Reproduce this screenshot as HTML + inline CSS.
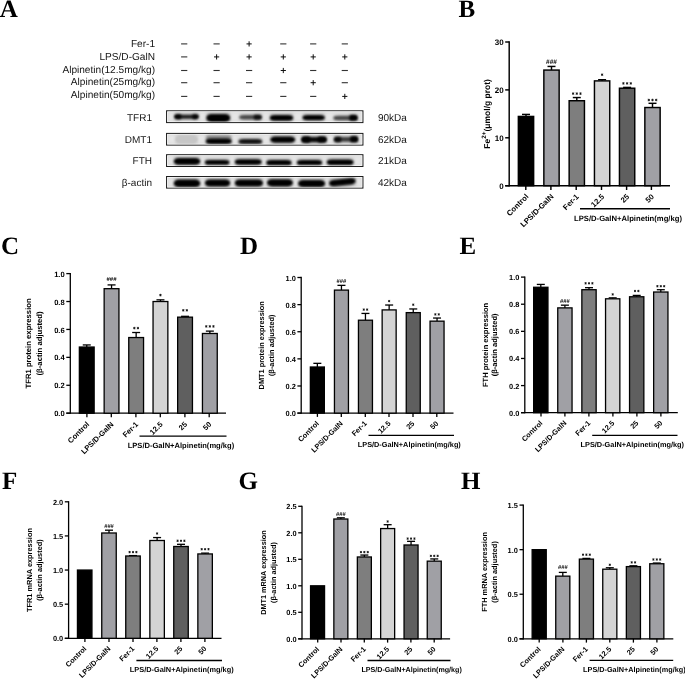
<!DOCTYPE html><html><head><meta charset="utf-8"><style>html,body{margin:0;padding:0;background:#fff;}svg{display:block;text-rendering:geometricPrecision;-webkit-font-smoothing:antialiased;will-change:transform;font-family:"Liberation Sans",sans-serif;}</style></head><body>
<svg width="685" height="679" viewBox="0 0 685 679">
<defs><filter id="bl" x="-30%" y="-100%" width="160%" height="300%"><feGaussianBlur stdDeviation="1.0"/></filter><filter id="bl3" x="-30%" y="-100%" width="160%" height="300%"><feGaussianBlur stdDeviation="1.6"/></filter><filter id="bl2" x="-5%" y="-30%" width="110%" height="160%"><feGaussianBlur stdDeviation="0.8"/></filter></defs>
<rect width="685" height="679" fill="#fff"/>
<text x="-0.3" y="16.8" font-family="Liberation Serif" font-weight="bold" font-size="25">A</text>
<text x="458.5" y="17" font-family="Liberation Serif" font-weight="bold" font-size="25">B</text>
<text x="1" y="254" font-family="Liberation Serif" font-weight="bold" font-size="25">C</text>
<text x="240" y="254.2" font-family="Liberation Serif" font-weight="bold" font-size="25">D</text>
<text x="459.5" y="254.2" font-family="Liberation Serif" font-weight="bold" font-size="25">E</text>
<text x="2" y="488.6" font-family="Liberation Serif" font-weight="bold" font-size="25">F</text>
<text x="238.5" y="488.6" font-family="Liberation Serif" font-weight="bold" font-size="25">G</text>
<text x="461" y="488.6" font-family="Liberation Serif" font-weight="bold" font-size="25">H</text>
<text x="155" y="47.3" font-size="10.1" text-anchor="end" fill="#151515">Fer-1</text>
<text x="155" y="60.0" font-size="10.1" text-anchor="end" fill="#151515">LPS/D-GalN</text>
<text x="155" y="72.7" font-size="10.1" text-anchor="end" fill="#151515">Alpinetin(12.5mg/kg)</text>
<text x="155" y="85.4" font-size="10.1" text-anchor="end" fill="#151515">Alpinetin(25mg/kg)</text>
<text x="155" y="97.9" font-size="10.1" text-anchor="end" fill="#151515">Alpinetin(50mg/kg)</text>
<rect x="181.1" y="43.35" width="6.2" height="1.1" fill="#333"/>
<rect x="213.5" y="43.35" width="6.2" height="1.1" fill="#333"/>
<rect x="246.5" y="43.4" width="5.2" height="1.0" fill="#111"/>
<rect x="248.6" y="41.3" width="1.0" height="5.2" fill="#111"/>
<rect x="280.2" y="43.35" width="6.2" height="1.1" fill="#333"/>
<rect x="310.1" y="43.35" width="6.2" height="1.1" fill="#333"/>
<rect x="341.7" y="43.35" width="6.2" height="1.1" fill="#333"/>
<rect x="181.1" y="56.35" width="6.2" height="1.1" fill="#333"/>
<rect x="214" y="56.4" width="5.2" height="1.0" fill="#111"/>
<rect x="216.1" y="54.3" width="1.0" height="5.2" fill="#111"/>
<rect x="246.5" y="56.4" width="5.2" height="1.0" fill="#111"/>
<rect x="248.6" y="54.3" width="1.0" height="5.2" fill="#111"/>
<rect x="280.7" y="56.4" width="5.2" height="1.0" fill="#111"/>
<rect x="282.8" y="54.3" width="1.0" height="5.2" fill="#111"/>
<rect x="310.6" y="56.4" width="5.2" height="1.0" fill="#111"/>
<rect x="312.7" y="54.3" width="1.0" height="5.2" fill="#111"/>
<rect x="342.2" y="56.4" width="5.2" height="1.0" fill="#111"/>
<rect x="344.3" y="54.3" width="1.0" height="5.2" fill="#111"/>
<rect x="181.1" y="69.95" width="6.2" height="1.1" fill="#333"/>
<rect x="213.5" y="69.95" width="6.2" height="1.1" fill="#333"/>
<rect x="246" y="69.95" width="6.2" height="1.1" fill="#333"/>
<rect x="280.7" y="70" width="5.2" height="1.0" fill="#111"/>
<rect x="282.8" y="67.9" width="1.0" height="5.2" fill="#111"/>
<rect x="310.1" y="69.95" width="6.2" height="1.1" fill="#333"/>
<rect x="341.7" y="69.95" width="6.2" height="1.1" fill="#333"/>
<rect x="181.1" y="82.15" width="6.2" height="1.1" fill="#333"/>
<rect x="213.5" y="82.15" width="6.2" height="1.1" fill="#333"/>
<rect x="246" y="82.15" width="6.2" height="1.1" fill="#333"/>
<rect x="280.2" y="82.15" width="6.2" height="1.1" fill="#333"/>
<rect x="310.6" y="82.2" width="5.2" height="1.0" fill="#111"/>
<rect x="312.7" y="80.1" width="1.0" height="5.2" fill="#111"/>
<rect x="341.7" y="82.15" width="6.2" height="1.1" fill="#333"/>
<rect x="181.1" y="95.85" width="6.2" height="1.1" fill="#333"/>
<rect x="213.5" y="95.85" width="6.2" height="1.1" fill="#333"/>
<rect x="246" y="95.85" width="6.2" height="1.1" fill="#333"/>
<rect x="280.2" y="95.85" width="6.2" height="1.1" fill="#333"/>
<rect x="310.1" y="95.85" width="6.2" height="1.1" fill="#333"/>
<rect x="342.2" y="95.9" width="5.2" height="1.0" fill="#111"/>
<rect x="344.3" y="93.8" width="1.0" height="5.2" fill="#111"/>
<text x="152" y="121.2" font-size="10" text-anchor="end" fill="#151515">TFR1</text>
<text x="378" y="121.2" font-size="10" fill="#151515">90kDa</text>
<text x="152" y="143.0" font-size="10" text-anchor="end" fill="#151515">DMT1</text>
<text x="378" y="143.0" font-size="10" fill="#151515">62kDa</text>
<text x="152" y="164.2" font-size="10" text-anchor="end" fill="#151515">FTH</text>
<text x="378" y="164.2" font-size="10" fill="#151515">21kDa</text>
<text x="152" y="185.8" font-size="10" text-anchor="end" fill="#151515">β-actin</text>
<text x="378" y="185.8" font-size="10" fill="#151515">42kDa</text>
<rect x="166.7" y="110.95" width="196.1" height="11.5" fill="#dcdcdc" stroke="#1a1a1a" stroke-width="1.3"/>
<rect x="167.6" y="111.8" width="194.3" height="9.8" fill="none" stroke="#f6f6f6" stroke-width="1.0"/>
<rect x="168.5" y="112.9" width="192.5" height="7.6" fill="#e6e6e6" filter="url(#bl2)"/>
<rect x="166.7" y="133.55" width="196.1" height="11.4" fill="#dcdcdc" stroke="#1a1a1a" stroke-width="1.3"/>
<rect x="167.6" y="134.4" width="194.3" height="9.7" fill="none" stroke="#f6f6f6" stroke-width="1.0"/>
<rect x="168.5" y="135.5" width="192.5" height="7.5" fill="#e6e6e6" filter="url(#bl2)"/>
<rect x="166.7" y="154.85" width="196.1" height="11.5" fill="#dcdcdc" stroke="#1a1a1a" stroke-width="1.3"/>
<rect x="167.6" y="155.7" width="194.3" height="9.8" fill="none" stroke="#f6f6f6" stroke-width="1.0"/>
<rect x="168.5" y="156.8" width="192.5" height="7.6" fill="#e6e6e6" filter="url(#bl2)"/>
<rect x="166.7" y="176.65" width="196.1" height="11.3" fill="#dcdcdc" stroke="#1a1a1a" stroke-width="1.3"/>
<rect x="167.6" y="177.5" width="194.3" height="9.6" fill="none" stroke="#f6f6f6" stroke-width="1.0"/>
<rect x="168.5" y="178.6" width="192.5" height="7.4" fill="#e6e6e6" filter="url(#bl2)"/>
<clipPath id="cb0"><rect x="167.4" y="111.6" width="194.7" height="10.2"/></clipPath>
<clipPath id="cb1"><rect x="167.4" y="134.2" width="194.7" height="10.1"/></clipPath>
<clipPath id="cb2"><rect x="167.4" y="155.5" width="194.7" height="10.2"/></clipPath>
<clipPath id="cb3"><rect x="167.4" y="177.3" width="194.7" height="10"/></clipPath>
<g clip-path="url(#cb0)">
<rect x="175" y="113.1" width="23" height="7.4" rx="2" fill="#000" fill-opacity="0.14" filter="url(#bl3)"/>
<rect x="175.3" y="114.75" width="22.4" height="4.1" rx="5" ry="2.05" fill="#000" fill-opacity="0.85" filter="url(#bl)"/>
<rect x="174" y="112.9" width="7.5" height="7.6" rx="2" fill="#000" fill-opacity="0.16" filter="url(#bl3)"/>
<rect x="174.3" y="114.55" width="6.9" height="4.3" rx="1.62" ry="2.15" fill="#000" fill-opacity="1.0" filter="url(#bl)"/>
<rect x="192" y="112.85" width="7" height="7.5" rx="2" fill="#000" fill-opacity="0.15" filter="url(#bl3)"/>
<rect x="192.3" y="114.5" width="6.4" height="4.2" rx="1.5" ry="2.1" fill="#000" fill-opacity="0.95" filter="url(#bl)"/>
<rect x="206" y="112.45" width="24.5" height="11.1" rx="2" fill="#000" fill-opacity="0.16" filter="url(#bl3)"/>
<rect x="206.3" y="114.1" width="23.9" height="7.8" rx="5" ry="3.9" fill="#000" fill-opacity="1.0" filter="url(#bl)"/>
<rect x="239" y="113.3" width="22.9" height="7.8" rx="2" fill="#000" fill-opacity="0.1" filter="url(#bl3)"/>
<rect x="239.3" y="114.95" width="22.3" height="4.5" rx="5" ry="2.25" fill="#000" fill-opacity="0.65" filter="url(#bl)"/>
<rect x="253.5" y="113.25" width="8.4" height="7.9" rx="2" fill="#000" fill-opacity="0.13" filter="url(#bl3)"/>
<rect x="253.8" y="114.9" width="7.8" height="4.6" rx="1.85" ry="2.3" fill="#000" fill-opacity="0.8" filter="url(#bl)"/>
<rect x="269.5" y="113.25" width="24" height="9.1" rx="2" fill="#000" fill-opacity="0.16" filter="url(#bl3)"/>
<rect x="269.8" y="114.9" width="23.4" height="5.8" rx="5" ry="2.9" fill="#000" fill-opacity="1.0" filter="url(#bl)"/>
<rect x="302.2" y="113.35" width="22.9" height="8.5" rx="2" fill="#000" fill-opacity="0.16" filter="url(#bl3)"/>
<rect x="302.5" y="115" width="22.3" height="5.2" rx="5" ry="2.6" fill="#000" fill-opacity="1.0" filter="url(#bl)"/>
<rect x="333.1" y="114.15" width="24.7" height="7.7" rx="2" fill="#000" fill-opacity="0.1" filter="url(#bl3)"/>
<rect x="333.4" y="115.8" width="24.1" height="4.4" rx="5" ry="2.2" fill="#000" fill-opacity="0.65" filter="url(#bl)"/>
<rect x="349" y="113.45" width="8.8" height="8.7" rx="2" fill="#000" fill-opacity="0.16" filter="url(#bl3)"/>
<rect x="349.3" y="115.1" width="8.2" height="5.4" rx="1.95" ry="2.7" fill="#000" fill-opacity="1.0" filter="url(#bl)"/>
</g>
<g clip-path="url(#cb1)">
<rect x="174.5" y="133.4" width="24" height="12" rx="2" fill="#000" fill-opacity="0.02" filter="url(#bl3)"/>
<rect x="174.8" y="135.05" width="23.4" height="8.7" rx="5" ry="4.35" fill="#000" fill-opacity="0.12" filter="url(#bl)"/>
<rect x="205.5" y="136.95" width="26.4" height="8.7" rx="2" fill="#000" fill-opacity="0.16" filter="url(#bl3)"/>
<rect x="205.8" y="138.6" width="25.8" height="5.4" rx="5" ry="2.7" fill="#000" fill-opacity="1.0" filter="url(#bl)"/>
<rect x="205.5" y="133.05" width="26.4" height="8.5" rx="2" fill="#000" fill-opacity="0.04" filter="url(#bl3)"/>
<rect x="205.8" y="134.7" width="25.8" height="5.2" rx="5" ry="2.6" fill="#000" fill-opacity="0.28" filter="url(#bl)"/>
<rect x="238.2" y="137.35" width="24.3" height="8.3" rx="2" fill="#000" fill-opacity="0.14" filter="url(#bl3)"/>
<rect x="238.5" y="139" width="23.7" height="5" rx="5" ry="2.5" fill="#000" fill-opacity="0.9" filter="url(#bl)"/>
<rect x="270" y="134.85" width="25.5" height="9.5" rx="2" fill="#000" fill-opacity="0.16" filter="url(#bl3)"/>
<rect x="270.3" y="136.5" width="24.9" height="6.2" rx="5" ry="3.1" fill="#000" fill-opacity="1.0" filter="url(#bl)"/>
<rect x="301.3" y="135.25" width="25.5" height="8.7" rx="2" fill="#000" fill-opacity="0.15" filter="url(#bl3)"/>
<rect x="301.6" y="136.9" width="24.9" height="5.4" rx="5" ry="2.7" fill="#000" fill-opacity="0.95" filter="url(#bl)"/>
<rect x="301.3" y="135.1" width="9.2" height="9" rx="2" fill="#000" fill-opacity="0.16" filter="url(#bl3)"/>
<rect x="301.6" y="136.75" width="8.6" height="5.7" rx="2.05" ry="2.85" fill="#000" fill-opacity="1.0" filter="url(#bl)"/>
<rect x="317.5" y="135.15" width="9.3" height="8.7" rx="2" fill="#000" fill-opacity="0.15" filter="url(#bl3)"/>
<rect x="317.8" y="136.8" width="8.7" height="5.4" rx="2.08" ry="2.7" fill="#000" fill-opacity="0.95" filter="url(#bl)"/>
<rect x="333.8" y="135.35" width="24.4" height="8.1" rx="2" fill="#000" fill-opacity="0.11" filter="url(#bl3)"/>
<rect x="334.1" y="137" width="23.8" height="4.8" rx="5" ry="2.4" fill="#000" fill-opacity="0.7" filter="url(#bl)"/>
<rect x="333.8" y="135.25" width="7.7" height="8.3" rx="2" fill="#000" fill-opacity="0.14" filter="url(#bl3)"/>
<rect x="334.1" y="136.9" width="7.1" height="5" rx="1.67" ry="2.5" fill="#000" fill-opacity="0.85" filter="url(#bl)"/>
<rect x="350" y="134.65" width="8.2" height="9.1" rx="2" fill="#000" fill-opacity="0.16" filter="url(#bl3)"/>
<rect x="350.3" y="136.3" width="7.6" height="5.8" rx="1.8" ry="2.9" fill="#000" fill-opacity="1.0" filter="url(#bl)"/>
</g>
<g clip-path="url(#cb2)">
<rect x="173.5" y="156.45" width="27" height="9.9" rx="2" fill="#000" fill-opacity="0.16" filter="url(#bl3)"/>
<rect x="173.8" y="158.1" width="26.4" height="6.6" rx="5" ry="3.3" fill="#000" fill-opacity="1.0" filter="url(#bl)"/>
<rect x="204.6" y="158.35" width="25.1" height="8.1" rx="2" fill="#000" fill-opacity="0.16" filter="url(#bl3)"/>
<rect x="204.9" y="160" width="24.5" height="4.8" rx="5" ry="2.4" fill="#000" fill-opacity="1.0" filter="url(#bl)"/>
<rect x="234.5" y="157.55" width="27.4" height="8.9" rx="2" fill="#000" fill-opacity="0.16" filter="url(#bl3)"/>
<rect x="234.8" y="159.2" width="26.8" height="5.6" rx="5" ry="2.8" fill="#000" fill-opacity="1.0" filter="url(#bl)"/>
<rect x="266" y="158.45" width="25.8" height="8.5" rx="2" fill="#000" fill-opacity="0.16" filter="url(#bl3)"/>
<rect x="266.3" y="160.1" width="25.2" height="5.2" rx="5" ry="2.6" fill="#000" fill-opacity="1.0" filter="url(#bl)"/>
<rect x="296.6" y="158.25" width="25.8" height="8.5" rx="2" fill="#000" fill-opacity="0.16" filter="url(#bl3)"/>
<rect x="296.9" y="159.9" width="25.2" height="5.2" rx="5" ry="2.6" fill="#000" fill-opacity="1.0" filter="url(#bl)"/>
<rect x="326.5" y="157.85" width="27.3" height="8.9" rx="2" fill="#000" fill-opacity="0.16" filter="url(#bl3)"/>
<rect x="326.8" y="159.5" width="26.7" height="5.6" rx="5" ry="2.8" fill="#000" fill-opacity="1.0" filter="url(#bl)"/>
</g>
<g clip-path="url(#cb3)">
<rect x="173.5" y="177.95" width="27" height="10.7" rx="2" fill="#000" fill-opacity="0.16" filter="url(#bl3)"/>
<rect x="173.8" y="179.6" width="26.4" height="7.4" rx="5" ry="3.7" fill="#000" fill-opacity="1.0" filter="url(#bl)"/>
<rect x="204.6" y="177.85" width="25.9" height="10.3" rx="2" fill="#000" fill-opacity="0.16" filter="url(#bl3)"/>
<rect x="204.9" y="179.5" width="25.3" height="7" rx="5" ry="3.5" fill="#000" fill-opacity="1.0" filter="url(#bl)"/>
<rect x="234.5" y="177.75" width="28.8" height="10.5" rx="2" fill="#000" fill-opacity="0.16" filter="url(#bl3)"/>
<rect x="234.8" y="179.4" width="28.2" height="7.2" rx="5" ry="3.6" fill="#000" fill-opacity="1.0" filter="url(#bl)"/>
<rect x="266.7" y="177.55" width="26.5" height="10.5" rx="2" fill="#000" fill-opacity="0.16" filter="url(#bl3)"/>
<rect x="267" y="179.2" width="25.9" height="7.2" rx="5" ry="3.6" fill="#000" fill-opacity="1.0" filter="url(#bl)"/>
<rect x="297.8" y="178.25" width="27.6" height="10.5" rx="2" fill="#000" fill-opacity="0.16" filter="url(#bl3)"/>
<rect x="298.1" y="179.9" width="27" height="7.2" rx="5" ry="3.6" fill="#000" fill-opacity="1.0" filter="url(#bl)"/>
<rect x="328.7" y="177.25" width="27.3" height="9.9" rx="2" fill="#000" fill-opacity="0.16" filter="url(#bl3)" transform="rotate(-6 342.35 182.2)"/>
<rect x="329" y="178.9" width="26.7" height="6.6" rx="5" ry="3.3" fill="#000" fill-opacity="1.0" filter="url(#bl)" transform="rotate(-6 342.35 182.2)"/>
</g>
<line x1="509.2" y1="41.27" x2="509.2" y2="186.42" stroke="#000" stroke-width="1.45"/>
<line x1="505.2" y1="185.7" x2="670" y2="185.7" stroke="#000" stroke-width="1.45"/>
<line x1="505.2" y1="185.7" x2="509.2" y2="185.7" stroke="#000" stroke-width="1.45"/>
<text x="503.6" y="188.98" font-size="8" text-anchor="end" font-weight="bold">0</text>
<line x1="505.2" y1="137.8" x2="509.2" y2="137.8" stroke="#000" stroke-width="1.45"/>
<text x="503.6" y="141.08" font-size="8" text-anchor="end" font-weight="bold">10</text>
<line x1="505.2" y1="89.9" x2="509.2" y2="89.9" stroke="#000" stroke-width="1.45"/>
<text x="503.6" y="93.18" font-size="8" text-anchor="end" font-weight="bold">20</text>
<line x1="505.2" y1="42" x2="509.2" y2="42" stroke="#000" stroke-width="1.45"/>
<text x="503.6" y="45.28" font-size="8" text-anchor="end" font-weight="bold">30</text>
<line x1="526" y1="116.44" x2="526" y2="114.42" stroke="#000" stroke-width="1.45"/>
<line x1="522" y1="114.42" x2="530" y2="114.42" stroke="#000" stroke-width="1.45"/>
<rect x="518.35" y="116.44" width="15.3" height="69.26" fill="#000000" stroke="#000" stroke-width="1.45"/>
<line x1="551.5" y1="70.07" x2="551.5" y2="66.43" stroke="#000" stroke-width="1.45"/>
<line x1="547.5" y1="66.43" x2="555.5" y2="66.43" stroke="#000" stroke-width="1.45"/>
<rect x="543.85" y="70.07" width="15.3" height="115.63" fill="#a0a0a5" stroke="#000" stroke-width="1.45"/>
<text x="551.5" y="64.14" font-size="6.5" text-anchor="middle" font-weight="bold" fill="#000">###</text>
<line x1="576.8" y1="100.73" x2="576.8" y2="97.56" stroke="#000" stroke-width="1.45"/>
<line x1="572.8" y1="97.56" x2="580.8" y2="97.56" stroke="#000" stroke-width="1.45"/>
<rect x="569.15" y="100.73" width="15.3" height="84.97" fill="#7e7e7e" stroke="#000" stroke-width="1.45"/>
<path d="M573.1 92.35L573.1 94.85M572.02 92.97L574.18 94.22M572.02 94.22L574.18 92.97" stroke="#111" stroke-width="0.85" fill="none"/>
<path d="M576.8 92.35L576.8 94.85M575.72 92.97L577.88 94.22M575.72 94.22L577.88 92.97" stroke="#111" stroke-width="0.85" fill="none"/>
<path d="M580.5 92.35L580.5 94.85M579.42 92.97L581.58 94.22M579.42 94.22L581.58 92.97" stroke="#111" stroke-width="0.85" fill="none"/>
<line x1="602.1" y1="80.89" x2="602.1" y2="79.7" stroke="#000" stroke-width="1.45"/>
<line x1="598.1" y1="79.7" x2="606.1" y2="79.7" stroke="#000" stroke-width="1.45"/>
<rect x="594.45" y="80.89" width="15.3" height="104.81" fill="#d4d4d4" stroke="#000" stroke-width="1.45"/>
<path d="M602.1 73.45L602.1 75.95M601.02 74.08L603.18 75.33M601.02 75.33L603.18 74.08" stroke="#111" stroke-width="0.85" fill="none"/>
<line x1="627.1" y1="88.22" x2="627.1" y2="87.41" stroke="#000" stroke-width="1.45"/>
<line x1="623.1" y1="87.41" x2="631.1" y2="87.41" stroke="#000" stroke-width="1.45"/>
<rect x="619.45" y="88.22" width="15.3" height="97.48" fill="#5f5f5f" stroke="#000" stroke-width="1.45"/>
<path d="M623.4 82.15L623.4 84.65M622.32 82.78L624.48 84.03M622.32 84.03L624.48 82.78" stroke="#111" stroke-width="0.85" fill="none"/>
<path d="M627.1 82.15L627.1 84.65M626.02 82.78L628.18 84.03M626.02 84.03L628.18 82.78" stroke="#111" stroke-width="0.85" fill="none"/>
<path d="M630.8 82.15L630.8 84.65M629.72 82.78L631.88 84.03M629.72 84.03L631.88 82.78" stroke="#111" stroke-width="0.85" fill="none"/>
<line x1="652.5" y1="107.53" x2="652.5" y2="103.31" stroke="#000" stroke-width="1.45"/>
<line x1="648.5" y1="103.31" x2="656.5" y2="103.31" stroke="#000" stroke-width="1.45"/>
<rect x="644.85" y="107.53" width="15.3" height="78.17" fill="#a0a0a5" stroke="#000" stroke-width="1.45"/>
<path d="M648.8 98.75L648.8 101.25M647.72 99.38L649.88 100.62M647.72 100.62L649.88 99.38" stroke="#111" stroke-width="0.85" fill="none"/>
<path d="M652.5 98.75L652.5 101.25M651.42 99.38L653.58 100.62M651.42 100.62L653.58 99.38" stroke="#111" stroke-width="0.85" fill="none"/>
<path d="M656.2 98.75L656.2 101.25M655.12 99.38L657.28 100.62M655.12 100.62L657.28 99.38" stroke="#111" stroke-width="0.85" fill="none"/>
<line x1="525.8" y1="185.7" x2="525.8" y2="190" stroke="#000" stroke-width="1.45"/>
<line x1="550.9" y1="185.7" x2="550.9" y2="190" stroke="#000" stroke-width="1.45"/>
<line x1="576.2" y1="185.7" x2="576.2" y2="190" stroke="#000" stroke-width="1.45"/>
<line x1="601.5" y1="185.7" x2="601.5" y2="190" stroke="#000" stroke-width="1.45"/>
<line x1="626.6" y1="185.7" x2="626.6" y2="190" stroke="#000" stroke-width="1.45"/>
<line x1="651.4" y1="185.7" x2="651.4" y2="190" stroke="#000" stroke-width="1.45"/>
<text x="529" y="197.1" font-size="7.7" text-anchor="end" font-weight="bold" transform="rotate(-45 529 197.1)">Control</text>
<text x="554.1" y="197.1" font-size="7.7" text-anchor="end" font-weight="bold" transform="rotate(-45 554.1 197.1)">LPS/D-GalN</text>
<text x="579.4" y="197.1" font-size="7.7" text-anchor="end" font-weight="bold" transform="rotate(-45 579.4 197.1)">Fer-1</text>
<text x="604.7" y="197.1" font-size="7.7" text-anchor="end" font-weight="bold" transform="rotate(-45 604.7 197.1)">12.5</text>
<text x="629.8" y="197.1" font-size="7.7" text-anchor="end" font-weight="bold" transform="rotate(-45 629.8 197.1)">25</text>
<text x="654.6" y="197.1" font-size="7.7" text-anchor="end" font-weight="bold" transform="rotate(-45 654.6 197.1)">50</text>
<line x1="580" y1="208.7" x2="670" y2="208.7" stroke="#000" stroke-width="1.45"/>
<text x="682" y="220.6" font-size="7.7" font-weight="bold" text-anchor="end" textLength="108" lengthAdjust="spacingAndGlyphs">LPS/D-GalN+Alpinetin(mg/kg)</text>
<text x="489.9" y="113.85" font-size="8.5" font-weight="bold" text-anchor="middle" transform="rotate(-90 489.9 113.85)">Fe<tspan font-size="6.3" dy="-3.5">2+</tspan><tspan dy="3.5">(μmol/g prot)</tspan></text>
<line x1="70.3" y1="272.95" x2="70.3" y2="413.85" stroke="#000" stroke-width="1.3"/>
<line x1="66.3" y1="413.2" x2="226" y2="413.2" stroke="#000" stroke-width="1.3"/>
<line x1="66.3" y1="413.2" x2="70.3" y2="413.2" stroke="#000" stroke-width="1.3"/>
<text x="64.7" y="416.32" font-size="7.6" text-anchor="end" font-weight="bold">0.0</text>
<line x1="66.3" y1="385.28" x2="70.3" y2="385.28" stroke="#000" stroke-width="1.3"/>
<text x="64.7" y="388.4" font-size="7.6" text-anchor="end" font-weight="bold">0.2</text>
<line x1="66.3" y1="357.36" x2="70.3" y2="357.36" stroke="#000" stroke-width="1.3"/>
<text x="64.7" y="360.48" font-size="7.6" text-anchor="end" font-weight="bold">0.4</text>
<line x1="66.3" y1="329.44" x2="70.3" y2="329.44" stroke="#000" stroke-width="1.3"/>
<text x="64.7" y="332.56" font-size="7.6" text-anchor="end" font-weight="bold">0.6</text>
<line x1="66.3" y1="301.52" x2="70.3" y2="301.52" stroke="#000" stroke-width="1.3"/>
<text x="64.7" y="304.64" font-size="7.6" text-anchor="end" font-weight="bold">0.8</text>
<line x1="66.3" y1="273.6" x2="70.3" y2="273.6" stroke="#000" stroke-width="1.3"/>
<text x="64.7" y="276.72" font-size="7.6" text-anchor="end" font-weight="bold">1.0</text>
<line x1="86.75" y1="347.03" x2="86.75" y2="344.94" stroke="#000" stroke-width="1.3"/>
<line x1="82.75" y1="344.94" x2="90.75" y2="344.94" stroke="#000" stroke-width="1.3"/>
<rect x="79.35" y="347.03" width="14.8" height="66.17" fill="#000000" stroke="#000" stroke-width="1.3"/>
<line x1="111.55" y1="288.68" x2="111.55" y2="284.91" stroke="#000" stroke-width="1.3"/>
<line x1="107.55" y1="284.91" x2="115.55" y2="284.91" stroke="#000" stroke-width="1.3"/>
<rect x="104.15" y="288.68" width="14.8" height="124.52" fill="#a0a0a5" stroke="#000" stroke-width="1.3"/>
<text x="111.55" y="281.46" font-size="6" text-anchor="middle" font-weight="bold" fill="#000">###</text>
<line x1="136.15" y1="337.54" x2="136.15" y2="332.51" stroke="#000" stroke-width="1.3"/>
<line x1="132.15" y1="332.51" x2="140.15" y2="332.51" stroke="#000" stroke-width="1.3"/>
<rect x="128.75" y="337.54" width="14.8" height="75.66" fill="#7e7e7e" stroke="#000" stroke-width="1.3"/>
<path d="M134.35 326.85L134.35 329.35M133.27 327.48L135.43 328.73M133.27 328.73L135.43 327.48" stroke="#111" stroke-width="0.85" fill="none"/>
<path d="M137.95 326.85L137.95 329.35M136.87 327.48L139.03 328.73M136.87 328.73L139.03 327.48" stroke="#111" stroke-width="0.85" fill="none"/>
<line x1="160.45" y1="301.52" x2="160.45" y2="299.84" stroke="#000" stroke-width="1.3"/>
<line x1="156.45" y1="299.84" x2="164.45" y2="299.84" stroke="#000" stroke-width="1.3"/>
<rect x="153.05" y="301.52" width="14.8" height="111.68" fill="#d4d4d4" stroke="#000" stroke-width="1.3"/>
<path d="M160.45 293.85L160.45 296.35M159.37 294.48L161.53 295.73M159.37 295.73L161.53 294.48" stroke="#111" stroke-width="0.85" fill="none"/>
<line x1="185.05" y1="317.16" x2="185.05" y2="316.32" stroke="#000" stroke-width="1.3"/>
<line x1="181.05" y1="316.32" x2="189.05" y2="316.32" stroke="#000" stroke-width="1.3"/>
<rect x="177.65" y="317.16" width="14.8" height="96.04" fill="#5f5f5f" stroke="#000" stroke-width="1.3"/>
<path d="M183.25 309.05L183.25 311.55M182.17 309.68L184.33 310.93M182.17 310.93L184.33 309.68" stroke="#111" stroke-width="0.85" fill="none"/>
<path d="M186.85 309.05L186.85 311.55M185.77 309.68L187.93 310.93M185.77 310.93L187.93 309.68" stroke="#111" stroke-width="0.85" fill="none"/>
<line x1="209.85" y1="333.49" x2="209.85" y2="331.12" stroke="#000" stroke-width="1.3"/>
<line x1="205.85" y1="331.12" x2="213.85" y2="331.12" stroke="#000" stroke-width="1.3"/>
<rect x="202.45" y="333.49" width="14.8" height="79.71" fill="#a0a0a5" stroke="#000" stroke-width="1.3"/>
<path d="M206.25 325.15L206.25 327.65M205.17 325.77L207.33 327.02M205.17 327.02L207.33 325.77" stroke="#111" stroke-width="0.85" fill="none"/>
<path d="M209.85 325.15L209.85 327.65M208.77 325.77L210.93 327.02M208.77 327.02L210.93 325.77" stroke="#111" stroke-width="0.85" fill="none"/>
<path d="M213.45 325.15L213.45 327.65M212.37 325.77L214.53 327.02M212.37 327.02L214.53 325.77" stroke="#111" stroke-width="0.85" fill="none"/>
<line x1="86.9" y1="413.2" x2="86.9" y2="417.2" stroke="#000" stroke-width="1.3"/>
<line x1="111.3" y1="413.2" x2="111.3" y2="417.2" stroke="#000" stroke-width="1.3"/>
<line x1="135.9" y1="413.2" x2="135.9" y2="417.2" stroke="#000" stroke-width="1.3"/>
<line x1="160.3" y1="413.2" x2="160.3" y2="417.2" stroke="#000" stroke-width="1.3"/>
<line x1="184.9" y1="413.2" x2="184.9" y2="417.2" stroke="#000" stroke-width="1.3"/>
<line x1="209.2" y1="413.2" x2="209.2" y2="417.2" stroke="#000" stroke-width="1.3"/>
<text x="89.7" y="424.8" font-size="7.5" text-anchor="end" font-weight="bold" transform="rotate(-45 89.7 424.8)">Control</text>
<text x="114.1" y="424.8" font-size="7.5" text-anchor="end" font-weight="bold" transform="rotate(-45 114.1 424.8)">LPS/D-GalN</text>
<text x="138.7" y="424.8" font-size="7.5" text-anchor="end" font-weight="bold" transform="rotate(-45 138.7 424.8)">Fer-1</text>
<text x="163.1" y="424.8" font-size="7.5" text-anchor="end" font-weight="bold" transform="rotate(-45 163.1 424.8)">12.5</text>
<text x="187.7" y="424.8" font-size="7.5" text-anchor="end" font-weight="bold" transform="rotate(-45 187.7 424.8)">25</text>
<text x="212" y="424.8" font-size="7.5" text-anchor="end" font-weight="bold" transform="rotate(-45 212 424.8)">50</text>
<line x1="139.5" y1="436.1" x2="226.5" y2="436.1" stroke="#000" stroke-width="1.3"/>
<text x="234.2" y="448" font-size="7.5" font-weight="bold" text-anchor="end" textLength="106.5" lengthAdjust="spacingAndGlyphs">LPS/D-GalN+Alpinetin(mg/kg)</text>
<text x="31.5" y="343.4" font-size="7.7" font-weight="bold" text-anchor="middle" transform="rotate(-90 31.5 343.4)">TFR1 protein expression</text>
<text x="41.7" y="343.4" font-size="7.7" font-weight="bold" text-anchor="middle" transform="rotate(-90 41.7 343.4)">(β-actin adjusted)</text>
<line x1="301.2" y1="276.85" x2="301.2" y2="413.75" stroke="#000" stroke-width="1.3"/>
<line x1="297.4" y1="413.1" x2="453.5" y2="413.1" stroke="#000" stroke-width="1.3"/>
<line x1="297.4" y1="413.1" x2="301.2" y2="413.1" stroke="#000" stroke-width="1.3"/>
<text x="295.8" y="416.13" font-size="7.4" text-anchor="end" font-weight="bold">0.0</text>
<line x1="297.4" y1="385.98" x2="301.2" y2="385.98" stroke="#000" stroke-width="1.3"/>
<text x="295.8" y="389.01" font-size="7.4" text-anchor="end" font-weight="bold">0.2</text>
<line x1="297.4" y1="358.86" x2="301.2" y2="358.86" stroke="#000" stroke-width="1.3"/>
<text x="295.8" y="361.89" font-size="7.4" text-anchor="end" font-weight="bold">0.4</text>
<line x1="297.4" y1="331.74" x2="301.2" y2="331.74" stroke="#000" stroke-width="1.3"/>
<text x="295.8" y="334.77" font-size="7.4" text-anchor="end" font-weight="bold">0.6</text>
<line x1="297.4" y1="304.62" x2="301.2" y2="304.62" stroke="#000" stroke-width="1.3"/>
<text x="295.8" y="307.65" font-size="7.4" text-anchor="end" font-weight="bold">0.8</text>
<line x1="297.4" y1="277.5" x2="301.2" y2="277.5" stroke="#000" stroke-width="1.3"/>
<text x="295.8" y="280.53" font-size="7.4" text-anchor="end" font-weight="bold">1.0</text>
<line x1="317.35" y1="367" x2="317.35" y2="363.33" stroke="#000" stroke-width="1.3"/>
<line x1="313.35" y1="363.33" x2="321.35" y2="363.33" stroke="#000" stroke-width="1.3"/>
<rect x="310.35" y="367" width="14" height="46.1" fill="#000000" stroke="#000" stroke-width="1.3"/>
<line x1="341.45" y1="290.11" x2="341.45" y2="285.36" stroke="#000" stroke-width="1.3"/>
<line x1="337.45" y1="285.36" x2="345.45" y2="285.36" stroke="#000" stroke-width="1.3"/>
<rect x="334.45" y="290.11" width="14" height="122.99" fill="#a0a0a5" stroke="#000" stroke-width="1.3"/>
<text x="341.45" y="282.79" font-size="5.8" text-anchor="middle" font-weight="bold" fill="#000">###</text>
<line x1="365.45" y1="320.21" x2="365.45" y2="313.43" stroke="#000" stroke-width="1.3"/>
<line x1="361.45" y1="313.43" x2="369.45" y2="313.43" stroke="#000" stroke-width="1.3"/>
<rect x="358.45" y="320.21" width="14" height="92.89" fill="#7e7e7e" stroke="#000" stroke-width="1.3"/>
<path d="M363.75 308.45L363.75 310.75M362.75 309.03L364.75 310.18M362.75 310.18L364.75 309.03" stroke="#111" stroke-width="0.85" fill="none"/>
<path d="M367.15 308.45L367.15 310.75M366.15 309.03L368.15 310.18M366.15 310.18L368.15 309.03" stroke="#111" stroke-width="0.85" fill="none"/>
<line x1="389.15" y1="309.91" x2="389.15" y2="305.03" stroke="#000" stroke-width="1.3"/>
<line x1="385.15" y1="305.03" x2="393.15" y2="305.03" stroke="#000" stroke-width="1.3"/>
<rect x="382.15" y="309.91" width="14" height="103.19" fill="#d4d4d4" stroke="#000" stroke-width="1.3"/>
<path d="M389.15 299.95L389.15 302.25M388.15 300.53L390.15 301.68M388.15 301.68L390.15 300.53" stroke="#111" stroke-width="0.85" fill="none"/>
<line x1="413.25" y1="312.62" x2="413.25" y2="308.96" stroke="#000" stroke-width="1.3"/>
<line x1="409.25" y1="308.96" x2="417.25" y2="308.96" stroke="#000" stroke-width="1.3"/>
<rect x="406.25" y="312.62" width="14" height="100.48" fill="#5f5f5f" stroke="#000" stroke-width="1.3"/>
<path d="M413.25 303.55L413.25 305.85M412.25 304.12L414.25 305.27M412.25 305.27L414.25 304.12" stroke="#111" stroke-width="0.85" fill="none"/>
<line x1="437.05" y1="321.16" x2="437.05" y2="318.04" stroke="#000" stroke-width="1.3"/>
<line x1="433.05" y1="318.04" x2="441.05" y2="318.04" stroke="#000" stroke-width="1.3"/>
<rect x="430.05" y="321.16" width="14" height="91.94" fill="#a0a0a5" stroke="#000" stroke-width="1.3"/>
<path d="M435.35 313.25L435.35 315.55M434.35 313.82L436.35 314.97M434.35 314.97L436.35 313.82" stroke="#111" stroke-width="0.85" fill="none"/>
<path d="M438.75 313.25L438.75 315.55M437.75 313.82L439.75 314.97M437.75 314.97L439.75 313.82" stroke="#111" stroke-width="0.85" fill="none"/>
<line x1="317.4" y1="413.1" x2="317.4" y2="416.9" stroke="#000" stroke-width="1.3"/>
<line x1="341.3" y1="413.1" x2="341.3" y2="416.9" stroke="#000" stroke-width="1.3"/>
<line x1="365.3" y1="413.1" x2="365.3" y2="416.9" stroke="#000" stroke-width="1.3"/>
<line x1="389" y1="413.1" x2="389" y2="416.9" stroke="#000" stroke-width="1.3"/>
<line x1="413" y1="413.1" x2="413" y2="416.9" stroke="#000" stroke-width="1.3"/>
<line x1="436.8" y1="413.1" x2="436.8" y2="416.9" stroke="#000" stroke-width="1.3"/>
<text x="319.4" y="424" font-size="7.3" text-anchor="end" font-weight="bold" transform="rotate(-45 319.4 424)">Control</text>
<text x="343.3" y="424" font-size="7.3" text-anchor="end" font-weight="bold" transform="rotate(-45 343.3 424)">LPS/D-GalN</text>
<text x="367.3" y="424" font-size="7.3" text-anchor="end" font-weight="bold" transform="rotate(-45 367.3 424)">Fer-1</text>
<text x="391" y="424" font-size="7.3" text-anchor="end" font-weight="bold" transform="rotate(-45 391 424)">12.5</text>
<text x="415" y="424" font-size="7.3" text-anchor="end" font-weight="bold" transform="rotate(-45 415 424)">25</text>
<text x="438.8" y="424" font-size="7.3" text-anchor="end" font-weight="bold" transform="rotate(-45 438.8 424)">50</text>
<line x1="368.5" y1="435.4" x2="454" y2="435.4" stroke="#000" stroke-width="1.3"/>
<text x="460.8" y="447.2" font-size="7.3" font-weight="bold" text-anchor="end" textLength="103" lengthAdjust="spacingAndGlyphs">LPS/D-GalN+Alpinetin(mg/kg)</text>
<text x="264.2" y="345.3" font-size="7.4" font-weight="bold" text-anchor="middle" transform="rotate(-90 264.2 345.3)">DMT1 protein expression</text>
<text x="274" y="345.3" font-size="7.4" font-weight="bold" text-anchor="middle" transform="rotate(-90 274 345.3)">(β-actin adjusted)</text>
<line x1="524.8" y1="276.45" x2="524.8" y2="413.35" stroke="#000" stroke-width="1.3"/>
<line x1="521" y1="412.7" x2="677.8" y2="412.7" stroke="#000" stroke-width="1.3"/>
<line x1="521" y1="412.7" x2="524.8" y2="412.7" stroke="#000" stroke-width="1.3"/>
<text x="519.4" y="415.73" font-size="7.4" text-anchor="end" font-weight="bold">0.0</text>
<line x1="521" y1="385.58" x2="524.8" y2="385.58" stroke="#000" stroke-width="1.3"/>
<text x="519.4" y="388.61" font-size="7.4" text-anchor="end" font-weight="bold">0.2</text>
<line x1="521" y1="358.46" x2="524.8" y2="358.46" stroke="#000" stroke-width="1.3"/>
<text x="519.4" y="361.49" font-size="7.4" text-anchor="end" font-weight="bold">0.4</text>
<line x1="521" y1="331.34" x2="524.8" y2="331.34" stroke="#000" stroke-width="1.3"/>
<text x="519.4" y="334.37" font-size="7.4" text-anchor="end" font-weight="bold">0.6</text>
<line x1="521" y1="304.22" x2="524.8" y2="304.22" stroke="#000" stroke-width="1.3"/>
<text x="519.4" y="307.25" font-size="7.4" text-anchor="end" font-weight="bold">0.8</text>
<line x1="521" y1="277.1" x2="524.8" y2="277.1" stroke="#000" stroke-width="1.3"/>
<text x="519.4" y="280.13" font-size="7.4" text-anchor="end" font-weight="bold">1.0</text>
<line x1="540.8" y1="287.27" x2="540.8" y2="284.42" stroke="#000" stroke-width="1.3"/>
<line x1="536.8" y1="284.42" x2="544.8" y2="284.42" stroke="#000" stroke-width="1.3"/>
<rect x="533.65" y="287.27" width="14.3" height="125.43" fill="#000000" stroke="#000" stroke-width="1.3"/>
<line x1="564.9" y1="307.88" x2="564.9" y2="305.17" stroke="#000" stroke-width="1.3"/>
<line x1="560.9" y1="305.17" x2="568.9" y2="305.17" stroke="#000" stroke-width="1.3"/>
<rect x="557.75" y="307.88" width="14.3" height="104.82" fill="#a0a0a5" stroke="#000" stroke-width="1.3"/>
<text x="564.9" y="302.69" font-size="5.8" text-anchor="middle" font-weight="bold" fill="#000">###</text>
<line x1="589" y1="289.71" x2="589" y2="287.68" stroke="#000" stroke-width="1.3"/>
<line x1="585" y1="287.68" x2="593" y2="287.68" stroke="#000" stroke-width="1.3"/>
<rect x="581.85" y="289.71" width="14.3" height="122.99" fill="#7e7e7e" stroke="#000" stroke-width="1.3"/>
<path d="M585.6 282.15L585.6 284.45M584.6 282.73L586.6 283.88M584.6 283.88L586.6 282.73" stroke="#111" stroke-width="0.85" fill="none"/>
<path d="M589 282.15L589 284.45M588 282.73L590 283.88M588 283.88L590 282.73" stroke="#111" stroke-width="0.85" fill="none"/>
<path d="M592.4 282.15L592.4 284.45M591.4 282.73L593.4 283.88M591.4 283.88L593.4 282.73" stroke="#111" stroke-width="0.85" fill="none"/>
<line x1="612.7" y1="298.8" x2="612.7" y2="297.85" stroke="#000" stroke-width="1.3"/>
<line x1="608.7" y1="297.85" x2="616.7" y2="297.85" stroke="#000" stroke-width="1.3"/>
<rect x="605.55" y="298.8" width="14.3" height="113.9" fill="#d4d4d4" stroke="#000" stroke-width="1.3"/>
<path d="M612.7 293.25L612.7 295.55M611.7 293.82L613.7 294.97M611.7 294.97L613.7 293.82" stroke="#111" stroke-width="0.85" fill="none"/>
<line x1="636.7" y1="296.76" x2="636.7" y2="295.41" stroke="#000" stroke-width="1.3"/>
<line x1="632.7" y1="295.41" x2="640.7" y2="295.41" stroke="#000" stroke-width="1.3"/>
<rect x="629.55" y="296.76" width="14.3" height="115.94" fill="#5f5f5f" stroke="#000" stroke-width="1.3"/>
<path d="M635 289.85L635 292.15M634 290.43L636 291.57M634 291.57L636 290.43" stroke="#111" stroke-width="0.85" fill="none"/>
<path d="M638.4 289.85L638.4 292.15M637.4 290.43L639.4 291.57M637.4 291.57L639.4 290.43" stroke="#111" stroke-width="0.85" fill="none"/>
<line x1="660.8" y1="292.02" x2="660.8" y2="289.71" stroke="#000" stroke-width="1.3"/>
<line x1="656.8" y1="289.71" x2="664.8" y2="289.71" stroke="#000" stroke-width="1.3"/>
<rect x="653.65" y="292.02" width="14.3" height="120.68" fill="#a0a0a5" stroke="#000" stroke-width="1.3"/>
<path d="M657.4 285.05L657.4 287.35M656.4 285.62L658.4 286.77M656.4 286.77L658.4 285.62" stroke="#111" stroke-width="0.85" fill="none"/>
<path d="M660.8 285.05L660.8 287.35M659.8 285.62L661.8 286.77M659.8 286.77L661.8 285.62" stroke="#111" stroke-width="0.85" fill="none"/>
<path d="M664.2 285.05L664.2 287.35M663.2 285.62L665.2 286.77M663.2 286.77L665.2 285.62" stroke="#111" stroke-width="0.85" fill="none"/>
<line x1="541" y1="412.7" x2="541" y2="416.5" stroke="#000" stroke-width="1.3"/>
<line x1="564.9" y1="412.7" x2="564.9" y2="416.5" stroke="#000" stroke-width="1.3"/>
<line x1="588.9" y1="412.7" x2="588.9" y2="416.5" stroke="#000" stroke-width="1.3"/>
<line x1="612.9" y1="412.7" x2="612.9" y2="416.5" stroke="#000" stroke-width="1.3"/>
<line x1="636.9" y1="412.7" x2="636.9" y2="416.5" stroke="#000" stroke-width="1.3"/>
<line x1="660.9" y1="412.7" x2="660.9" y2="416.5" stroke="#000" stroke-width="1.3"/>
<text x="543" y="423.6" font-size="7.3" text-anchor="end" font-weight="bold" transform="rotate(-45 543 423.6)">Control</text>
<text x="566.9" y="423.6" font-size="7.3" text-anchor="end" font-weight="bold" transform="rotate(-45 566.9 423.6)">LPS/D-GalN</text>
<text x="590.9" y="423.6" font-size="7.3" text-anchor="end" font-weight="bold" transform="rotate(-45 590.9 423.6)">Fer-1</text>
<text x="614.9" y="423.6" font-size="7.3" text-anchor="end" font-weight="bold" transform="rotate(-45 614.9 423.6)">12.5</text>
<text x="638.9" y="423.6" font-size="7.3" text-anchor="end" font-weight="bold" transform="rotate(-45 638.9 423.6)">25</text>
<text x="662.9" y="423.6" font-size="7.3" text-anchor="end" font-weight="bold" transform="rotate(-45 662.9 423.6)">50</text>
<line x1="592.2" y1="435.4" x2="677.5" y2="435.4" stroke="#000" stroke-width="1.3"/>
<text x="684" y="447.1" font-size="7.3" font-weight="bold" text-anchor="end" textLength="103.5" lengthAdjust="spacingAndGlyphs">LPS/D-GalN+Alpinetin(mg/kg)</text>
<text x="487.6" y="344.9" font-size="7.55" font-weight="bold" text-anchor="middle" transform="rotate(-90 487.6 344.9)">FTH protein expression</text>
<text x="497.4" y="344.9" font-size="7.55" font-weight="bold" text-anchor="middle" transform="rotate(-90 497.4 344.9)">(β-actin adjusted)</text>
<line x1="68.6" y1="501.15" x2="68.6" y2="638.95" stroke="#000" stroke-width="1.3"/>
<line x1="64.8" y1="638.3" x2="221.5" y2="638.3" stroke="#000" stroke-width="1.3"/>
<line x1="64.8" y1="638.3" x2="68.6" y2="638.3" stroke="#000" stroke-width="1.3"/>
<text x="63.2" y="641.33" font-size="7.4" text-anchor="end" font-weight="bold">0.0</text>
<line x1="64.8" y1="604.17" x2="68.6" y2="604.17" stroke="#000" stroke-width="1.3"/>
<text x="63.2" y="607.21" font-size="7.4" text-anchor="end" font-weight="bold">0.5</text>
<line x1="64.8" y1="570.05" x2="68.6" y2="570.05" stroke="#000" stroke-width="1.3"/>
<text x="63.2" y="573.08" font-size="7.4" text-anchor="end" font-weight="bold">1.0</text>
<line x1="64.8" y1="535.92" x2="68.6" y2="535.92" stroke="#000" stroke-width="1.3"/>
<text x="63.2" y="538.96" font-size="7.4" text-anchor="end" font-weight="bold">1.5</text>
<line x1="64.8" y1="501.8" x2="68.6" y2="501.8" stroke="#000" stroke-width="1.3"/>
<text x="63.2" y="504.83" font-size="7.4" text-anchor="end" font-weight="bold">2.0</text>
<rect x="77.45" y="570.05" width="14.5" height="68.25" fill="#000000" stroke="#000" stroke-width="1.3"/>
<line x1="109" y1="532.99" x2="109" y2="530.19" stroke="#000" stroke-width="1.3"/>
<line x1="105" y1="530.19" x2="113" y2="530.19" stroke="#000" stroke-width="1.3"/>
<rect x="101.75" y="532.99" width="14.5" height="105.31" fill="#a0a0a5" stroke="#000" stroke-width="1.3"/>
<text x="109" y="527.89" font-size="5.8" text-anchor="middle" font-weight="bold" fill="#000">###</text>
<line x1="133" y1="555.99" x2="133" y2="555.58" stroke="#000" stroke-width="1.3"/>
<line x1="129" y1="555.58" x2="137" y2="555.58" stroke="#000" stroke-width="1.3"/>
<rect x="125.75" y="555.99" width="14.5" height="82.31" fill="#7e7e7e" stroke="#000" stroke-width="1.3"/>
<path d="M129.6 550.95L129.6 553.25M128.6 551.52L130.6 552.68M128.6 552.68L130.6 551.52" stroke="#111" stroke-width="0.85" fill="none"/>
<path d="M133 550.95L133 553.25M132 551.52L134 552.68M132 552.68L134 551.52" stroke="#111" stroke-width="0.85" fill="none"/>
<path d="M136.4 550.95L136.4 553.25M135.4 551.52L137.4 552.68M135.4 552.68L137.4 551.52" stroke="#111" stroke-width="0.85" fill="none"/>
<line x1="157.1" y1="540.5" x2="157.1" y2="537.56" stroke="#000" stroke-width="1.3"/>
<line x1="153.1" y1="537.56" x2="161.1" y2="537.56" stroke="#000" stroke-width="1.3"/>
<rect x="149.85" y="540.5" width="14.5" height="97.8" fill="#d4d4d4" stroke="#000" stroke-width="1.3"/>
<path d="M157.1 532.35L157.1 534.65M156.1 532.92L158.1 534.08M156.1 534.08L158.1 532.92" stroke="#111" stroke-width="0.85" fill="none"/>
<line x1="181" y1="546.5" x2="181" y2="544.32" stroke="#000" stroke-width="1.3"/>
<line x1="177" y1="544.32" x2="185" y2="544.32" stroke="#000" stroke-width="1.3"/>
<rect x="173.75" y="546.5" width="14.5" height="91.8" fill="#5f5f5f" stroke="#000" stroke-width="1.3"/>
<path d="M177.6 539.65L177.6 541.95M176.6 540.22L178.6 541.38M176.6 541.38L178.6 540.22" stroke="#111" stroke-width="0.85" fill="none"/>
<path d="M181 539.65L181 541.95M180 540.22L182 541.38M180 541.38L182 540.22" stroke="#111" stroke-width="0.85" fill="none"/>
<path d="M184.4 539.65L184.4 541.95M183.4 540.22L185.4 541.38M183.4 541.38L185.4 540.22" stroke="#111" stroke-width="0.85" fill="none"/>
<line x1="205.1" y1="553.94" x2="205.1" y2="553.12" stroke="#000" stroke-width="1.3"/>
<line x1="201.1" y1="553.12" x2="209.1" y2="553.12" stroke="#000" stroke-width="1.3"/>
<rect x="197.85" y="553.94" width="14.5" height="84.36" fill="#a0a0a5" stroke="#000" stroke-width="1.3"/>
<path d="M201.7 548.05L201.7 550.35M200.7 548.62L202.7 549.78M200.7 549.78L202.7 548.62" stroke="#111" stroke-width="0.85" fill="none"/>
<path d="M205.1 548.05L205.1 550.35M204.1 548.62L206.1 549.78M204.1 549.78L206.1 548.62" stroke="#111" stroke-width="0.85" fill="none"/>
<path d="M208.5 548.05L208.5 550.35M207.5 548.62L209.5 549.78M207.5 549.78L209.5 548.62" stroke="#111" stroke-width="0.85" fill="none"/>
<line x1="84.9" y1="638.3" x2="84.9" y2="642.1" stroke="#000" stroke-width="1.3"/>
<line x1="109" y1="638.3" x2="109" y2="642.1" stroke="#000" stroke-width="1.3"/>
<line x1="133" y1="638.3" x2="133" y2="642.1" stroke="#000" stroke-width="1.3"/>
<line x1="156.9" y1="638.3" x2="156.9" y2="642.1" stroke="#000" stroke-width="1.3"/>
<line x1="180.9" y1="638.3" x2="180.9" y2="642.1" stroke="#000" stroke-width="1.3"/>
<line x1="204.9" y1="638.3" x2="204.9" y2="642.1" stroke="#000" stroke-width="1.3"/>
<text x="86.9" y="649.2" font-size="7.3" text-anchor="end" font-weight="bold" transform="rotate(-45 86.9 649.2)">Control</text>
<text x="111" y="649.2" font-size="7.3" text-anchor="end" font-weight="bold" transform="rotate(-45 111 649.2)">LPS/D-GalN</text>
<text x="135" y="649.2" font-size="7.3" text-anchor="end" font-weight="bold" transform="rotate(-45 135 649.2)">Fer-1</text>
<text x="158.9" y="649.2" font-size="7.3" text-anchor="end" font-weight="bold" transform="rotate(-45 158.9 649.2)">12.5</text>
<text x="182.9" y="649.2" font-size="7.3" text-anchor="end" font-weight="bold" transform="rotate(-45 182.9 649.2)">25</text>
<text x="206.9" y="649.2" font-size="7.3" text-anchor="end" font-weight="bold" transform="rotate(-45 206.9 649.2)">50</text>
<line x1="136.4" y1="660.5" x2="222" y2="660.5" stroke="#000" stroke-width="1.3"/>
<text x="233.6" y="672.2" font-size="7.3" font-weight="bold" text-anchor="end" textLength="103.8" lengthAdjust="spacingAndGlyphs">LPS/D-GalN+Alpinetin(mg/kg)</text>
<text x="32" y="570.05" font-size="7.4" font-weight="bold" text-anchor="middle" transform="rotate(-90 32 570.05)">TFR1 mRNA expression</text>
<text x="41.8" y="570.05" font-size="7.4" font-weight="bold" text-anchor="middle" transform="rotate(-90 41.8 570.05)">(β-actin adjusted)</text>
<line x1="302" y1="505.65" x2="302" y2="639.45" stroke="#000" stroke-width="1.3"/>
<line x1="298.2" y1="638.8" x2="450.1" y2="638.8" stroke="#000" stroke-width="1.3"/>
<line x1="298.2" y1="638.8" x2="302" y2="638.8" stroke="#000" stroke-width="1.3"/>
<text x="296.6" y="641.83" font-size="7.4" text-anchor="end" font-weight="bold">0.0</text>
<line x1="298.2" y1="612.3" x2="302" y2="612.3" stroke="#000" stroke-width="1.3"/>
<text x="296.6" y="615.33" font-size="7.4" text-anchor="end" font-weight="bold">0.5</text>
<line x1="298.2" y1="585.8" x2="302" y2="585.8" stroke="#000" stroke-width="1.3"/>
<text x="296.6" y="588.83" font-size="7.4" text-anchor="end" font-weight="bold">1.0</text>
<line x1="298.2" y1="559.3" x2="302" y2="559.3" stroke="#000" stroke-width="1.3"/>
<text x="296.6" y="562.33" font-size="7.4" text-anchor="end" font-weight="bold">1.5</text>
<line x1="298.2" y1="532.8" x2="302" y2="532.8" stroke="#000" stroke-width="1.3"/>
<text x="296.6" y="535.83" font-size="7.4" text-anchor="end" font-weight="bold">2.0</text>
<line x1="298.2" y1="506.3" x2="302" y2="506.3" stroke="#000" stroke-width="1.3"/>
<text x="296.6" y="509.33" font-size="7.4" text-anchor="end" font-weight="bold">2.5</text>
<rect x="310.55" y="585.8" width="14" height="53" fill="#000000" stroke="#000" stroke-width="1.3"/>
<line x1="340.85" y1="519.02" x2="340.85" y2="517.8" stroke="#000" stroke-width="1.3"/>
<line x1="336.85" y1="517.8" x2="344.85" y2="517.8" stroke="#000" stroke-width="1.3"/>
<rect x="333.85" y="519.02" width="14" height="119.78" fill="#a0a0a5" stroke="#000" stroke-width="1.3"/>
<text x="340.85" y="515.89" font-size="5.8" text-anchor="middle" font-weight="bold" fill="#000">###</text>
<line x1="364.35" y1="556.97" x2="364.35" y2="555.06" stroke="#000" stroke-width="1.3"/>
<line x1="360.35" y1="555.06" x2="368.35" y2="555.06" stroke="#000" stroke-width="1.3"/>
<rect x="357.35" y="556.97" width="14" height="81.83" fill="#7e7e7e" stroke="#000" stroke-width="1.3"/>
<path d="M360.95 550.95L360.95 553.25M359.95 551.52L361.95 552.68M359.95 552.68L361.95 551.52" stroke="#111" stroke-width="0.85" fill="none"/>
<path d="M364.35 550.95L364.35 553.25M363.35 551.52L365.35 552.68M363.35 552.68L365.35 551.52" stroke="#111" stroke-width="0.85" fill="none"/>
<path d="M367.75 550.95L367.75 553.25M366.75 551.52L368.75 552.68M366.75 552.68L368.75 551.52" stroke="#111" stroke-width="0.85" fill="none"/>
<line x1="387.65" y1="528.56" x2="387.65" y2="524.69" stroke="#000" stroke-width="1.3"/>
<line x1="383.65" y1="524.69" x2="391.65" y2="524.69" stroke="#000" stroke-width="1.3"/>
<rect x="380.65" y="528.56" width="14" height="110.24" fill="#d4d4d4" stroke="#000" stroke-width="1.3"/>
<path d="M387.65 520.35L387.65 522.65M386.65 520.92L388.65 522.08M386.65 522.08L388.65 520.92" stroke="#111" stroke-width="0.85" fill="none"/>
<line x1="411.05" y1="544.99" x2="411.05" y2="541.33" stroke="#000" stroke-width="1.3"/>
<line x1="407.05" y1="541.33" x2="415.05" y2="541.33" stroke="#000" stroke-width="1.3"/>
<rect x="404.05" y="544.99" width="14" height="93.81" fill="#5f5f5f" stroke="#000" stroke-width="1.3"/>
<path d="M407.65 537.45L407.65 539.75M406.65 538.02L408.65 539.18M406.65 539.18L408.65 538.02" stroke="#111" stroke-width="0.85" fill="none"/>
<path d="M411.05 537.45L411.05 539.75M410.05 538.02L412.05 539.18M410.05 539.18L412.05 538.02" stroke="#111" stroke-width="0.85" fill="none"/>
<path d="M414.45 537.45L414.45 539.75M413.45 538.02L415.45 539.18M413.45 539.18L415.45 538.02" stroke="#111" stroke-width="0.85" fill="none"/>
<line x1="434.25" y1="561.15" x2="434.25" y2="558.93" stroke="#000" stroke-width="1.3"/>
<line x1="430.25" y1="558.93" x2="438.25" y2="558.93" stroke="#000" stroke-width="1.3"/>
<rect x="427.25" y="561.15" width="14" height="77.64" fill="#a0a0a5" stroke="#000" stroke-width="1.3"/>
<path d="M430.85 554.75L430.85 557.05M429.85 555.32L431.85 556.48M429.85 556.48L431.85 555.32" stroke="#111" stroke-width="0.85" fill="none"/>
<path d="M434.25 554.75L434.25 557.05M433.25 555.32L435.25 556.48M433.25 556.48L435.25 555.32" stroke="#111" stroke-width="0.85" fill="none"/>
<path d="M437.65 554.75L437.65 557.05M436.65 555.32L438.65 556.48M436.65 556.48L438.65 555.32" stroke="#111" stroke-width="0.85" fill="none"/>
<line x1="317.7" y1="638.8" x2="317.7" y2="642.6" stroke="#000" stroke-width="1.3"/>
<line x1="341" y1="638.8" x2="341" y2="642.6" stroke="#000" stroke-width="1.3"/>
<line x1="364.3" y1="638.8" x2="364.3" y2="642.6" stroke="#000" stroke-width="1.3"/>
<line x1="387.6" y1="638.8" x2="387.6" y2="642.6" stroke="#000" stroke-width="1.3"/>
<line x1="410.9" y1="638.8" x2="410.9" y2="642.6" stroke="#000" stroke-width="1.3"/>
<line x1="434.2" y1="638.8" x2="434.2" y2="642.6" stroke="#000" stroke-width="1.3"/>
<text x="319.7" y="649.7" font-size="7.3" text-anchor="end" font-weight="bold" transform="rotate(-45 319.7 649.7)">Control</text>
<text x="343" y="649.7" font-size="7.3" text-anchor="end" font-weight="bold" transform="rotate(-45 343 649.7)">LPS/D-GalN</text>
<text x="366.3" y="649.7" font-size="7.3" text-anchor="end" font-weight="bold" transform="rotate(-45 366.3 649.7)">Fer-1</text>
<text x="389.6" y="649.7" font-size="7.3" text-anchor="end" font-weight="bold" transform="rotate(-45 389.6 649.7)">12.5</text>
<text x="412.9" y="649.7" font-size="7.3" text-anchor="end" font-weight="bold" transform="rotate(-45 412.9 649.7)">25</text>
<text x="436.2" y="649.7" font-size="7.3" text-anchor="end" font-weight="bold" transform="rotate(-45 436.2 649.7)">50</text>
<line x1="367.5" y1="660.5" x2="450.5" y2="660.5" stroke="#000" stroke-width="1.3"/>
<text x="461.8" y="672" font-size="7.2" font-weight="bold" text-anchor="end" textLength="100.4" lengthAdjust="spacingAndGlyphs">LPS/D-GalN+Alpinetin(mg/kg)</text>
<text x="265.8" y="572.55" font-size="7.3" font-weight="bold" text-anchor="middle" transform="rotate(-90 265.8 572.55)">DMT1 mRNA expression</text>
<text x="275.9" y="572.55" font-size="7.3" font-weight="bold" text-anchor="middle" transform="rotate(-90 275.9 572.55)">(β-actin adjusted)</text>
<line x1="523.3" y1="504.45" x2="523.3" y2="639.45" stroke="#000" stroke-width="1.3"/>
<line x1="519.5" y1="638.8" x2="673.3" y2="638.8" stroke="#000" stroke-width="1.3"/>
<line x1="519.5" y1="638.8" x2="523.3" y2="638.8" stroke="#000" stroke-width="1.3"/>
<text x="517.9" y="641.83" font-size="7.4" text-anchor="end" font-weight="bold">0.0</text>
<line x1="519.5" y1="594.23" x2="523.3" y2="594.23" stroke="#000" stroke-width="1.3"/>
<text x="517.9" y="597.27" font-size="7.4" text-anchor="end" font-weight="bold">0.5</text>
<line x1="519.5" y1="549.67" x2="523.3" y2="549.67" stroke="#000" stroke-width="1.3"/>
<text x="517.9" y="552.7" font-size="7.4" text-anchor="end" font-weight="bold">1.0</text>
<line x1="519.5" y1="505.1" x2="523.3" y2="505.1" stroke="#000" stroke-width="1.3"/>
<text x="517.9" y="508.13" font-size="7.4" text-anchor="end" font-weight="bold">1.5</text>
<rect x="532.15" y="549.67" width="14.1" height="89.13" fill="#000000" stroke="#000" stroke-width="1.3"/>
<line x1="562.8" y1="576.14" x2="562.8" y2="572.4" stroke="#000" stroke-width="1.3"/>
<line x1="558.8" y1="572.4" x2="566.8" y2="572.4" stroke="#000" stroke-width="1.3"/>
<rect x="555.75" y="576.14" width="14.1" height="62.66" fill="#a0a0a5" stroke="#000" stroke-width="1.3"/>
<text x="562.8" y="569.39" font-size="5.8" text-anchor="middle" font-weight="bold" fill="#000">###</text>
<line x1="586.4" y1="559.11" x2="586.4" y2="558.4" stroke="#000" stroke-width="1.3"/>
<line x1="582.4" y1="558.4" x2="590.4" y2="558.4" stroke="#000" stroke-width="1.3"/>
<rect x="579.35" y="559.11" width="14.1" height="79.69" fill="#7e7e7e" stroke="#000" stroke-width="1.3"/>
<path d="M583 553.55L583 555.85M582 554.12L584 555.28M582 555.28L584 554.12" stroke="#111" stroke-width="0.85" fill="none"/>
<path d="M586.4 553.55L586.4 555.85M585.4 554.12L587.4 555.28M585.4 555.28L587.4 554.12" stroke="#111" stroke-width="0.85" fill="none"/>
<path d="M589.8 553.55L589.8 555.85M588.8 554.12L590.8 555.28M588.8 555.28L590.8 554.12" stroke="#111" stroke-width="0.85" fill="none"/>
<line x1="609.8" y1="569.19" x2="609.8" y2="567.76" stroke="#000" stroke-width="1.3"/>
<line x1="605.8" y1="567.76" x2="613.8" y2="567.76" stroke="#000" stroke-width="1.3"/>
<rect x="602.75" y="569.19" width="14.1" height="69.61" fill="#d4d4d4" stroke="#000" stroke-width="1.3"/>
<path d="M609.8 563.65L609.8 565.95M608.8 564.22L610.8 565.38M608.8 565.38L610.8 564.22" stroke="#111" stroke-width="0.85" fill="none"/>
<line x1="633.4" y1="566.6" x2="633.4" y2="565.8" stroke="#000" stroke-width="1.3"/>
<line x1="629.4" y1="565.8" x2="637.4" y2="565.8" stroke="#000" stroke-width="1.3"/>
<rect x="626.35" y="566.6" width="14.1" height="72.2" fill="#5f5f5f" stroke="#000" stroke-width="1.3"/>
<path d="M631.7 561.25L631.7 563.55M630.7 561.82L632.7 562.98M630.7 562.98L632.7 561.82" stroke="#111" stroke-width="0.85" fill="none"/>
<path d="M635.1 561.25L635.1 563.55M634.1 561.82L636.1 562.98M634.1 562.98L636.1 561.82" stroke="#111" stroke-width="0.85" fill="none"/>
<line x1="656.8" y1="563.75" x2="656.8" y2="563.04" stroke="#000" stroke-width="1.3"/>
<line x1="652.8" y1="563.04" x2="660.8" y2="563.04" stroke="#000" stroke-width="1.3"/>
<rect x="649.75" y="563.75" width="14.1" height="75.05" fill="#a0a0a5" stroke="#000" stroke-width="1.3"/>
<path d="M653.4 558.35L653.4 560.65M652.4 558.92L654.4 560.08M652.4 560.08L654.4 558.92" stroke="#111" stroke-width="0.85" fill="none"/>
<path d="M656.8 558.35L656.8 560.65M655.8 558.92L657.8 560.08M655.8 560.08L657.8 558.92" stroke="#111" stroke-width="0.85" fill="none"/>
<path d="M660.2 558.35L660.2 560.65M659.2 558.92L661.2 560.08M659.2 560.08L661.2 558.92" stroke="#111" stroke-width="0.85" fill="none"/>
<line x1="539.2" y1="638.8" x2="539.2" y2="642.6" stroke="#000" stroke-width="1.3"/>
<line x1="562.9" y1="638.8" x2="562.9" y2="642.6" stroke="#000" stroke-width="1.3"/>
<line x1="586.4" y1="638.8" x2="586.4" y2="642.6" stroke="#000" stroke-width="1.3"/>
<line x1="609.8" y1="638.8" x2="609.8" y2="642.6" stroke="#000" stroke-width="1.3"/>
<line x1="633.4" y1="638.8" x2="633.4" y2="642.6" stroke="#000" stroke-width="1.3"/>
<line x1="656.9" y1="638.8" x2="656.9" y2="642.6" stroke="#000" stroke-width="1.3"/>
<text x="541.2" y="649.7" font-size="7.3" text-anchor="end" font-weight="bold" transform="rotate(-45 541.2 649.7)">Control</text>
<text x="564.9" y="649.7" font-size="7.3" text-anchor="end" font-weight="bold" transform="rotate(-45 564.9 649.7)">LPS/D-GalN</text>
<text x="588.4" y="649.7" font-size="7.3" text-anchor="end" font-weight="bold" transform="rotate(-45 588.4 649.7)">Fer-1</text>
<text x="611.8" y="649.7" font-size="7.3" text-anchor="end" font-weight="bold" transform="rotate(-45 611.8 649.7)">12.5</text>
<text x="635.4" y="649.7" font-size="7.3" text-anchor="end" font-weight="bold" transform="rotate(-45 635.4 649.7)">25</text>
<text x="658.9" y="649.7" font-size="7.3" text-anchor="end" font-weight="bold" transform="rotate(-45 658.9 649.7)">50</text>
<line x1="589.6" y1="660.4" x2="673.2" y2="660.4" stroke="#000" stroke-width="1.3"/>
<text x="685.6" y="672" font-size="7.3" font-weight="bold" text-anchor="end" textLength="102.5" lengthAdjust="spacingAndGlyphs">LPS/D-GalN+Alpinetin(mg/kg)</text>
<text x="486.9" y="571.95" font-size="7.4" font-weight="bold" text-anchor="middle" transform="rotate(-90 486.9 571.95)">FTH mRNA expression</text>
<text x="497" y="571.95" font-size="7.4" font-weight="bold" text-anchor="middle" transform="rotate(-90 497 571.95)">(β-actin adjusted)</text>
</svg></body></html>
